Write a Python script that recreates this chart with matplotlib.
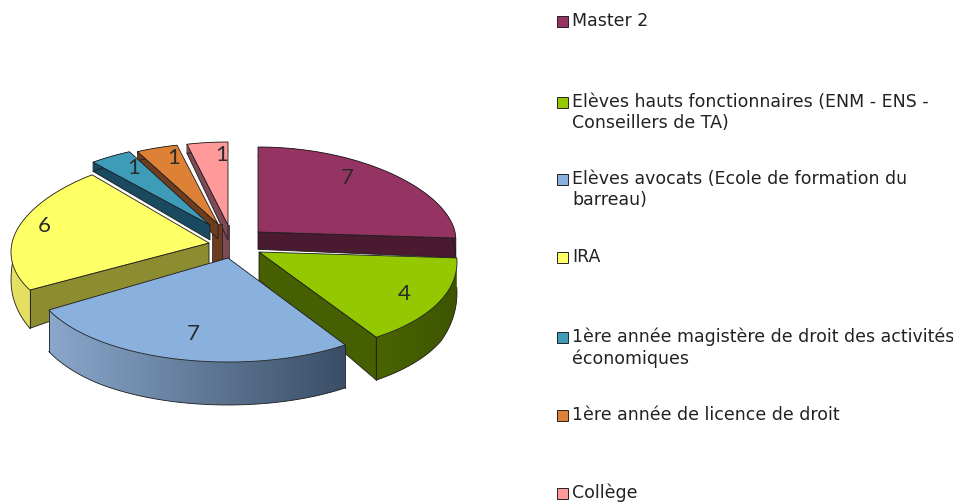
import numpy as np
import matplotlib
matplotlib.use('Agg')
import matplotlib.pyplot as plt
from matplotlib.colors import LinearSegmentedColormap
from matplotlib.patches import Polygon

# chart data
values = [7, 4, 7, 6, 1, 1, 1]
labels = ['Master 2',
          'Elèves hauts fonctionnaires (ENM - ENS -\nConseillers de TA)',
          'Elèves avocats (Ecole de formation du\nbarreau)',
          'IRA',
          '1ère année magistère de droit des activités\néconomiques',
          '1ère année de licence de droit',
          'Collège']

# look of each slice
topColors = ['#953462', '#94c800', '#8ab0de', '#ffff66', '#3f9cb8', '#dd8136', '#ff9a9a']
faceColors = ['#4a1a30', '#465f00', '#44586f', '#8c8c30', '#1a4a60', '#6e3c1e', '#7f4a55']
arcLeft = ['#4a1a30', '#4a6400', '#8aa8cc', '#e8e264', '#1a4a60', '#6e3c1e', '#7f4a55']
arcRight = ['#4a1a30', '#3e5500', '#3a4e66', '#d8d050', '#1a4a60', '#6e3c1e', '#7f4a55']

# exploded apex of each slice, in pixels, and its radius towards the viewer
apexX = [258, 259, 228, 209, 210, 218, 228]
apexY = [232, 252, 258, 243, 225, 224, 225]
frontRy = [104, 102, 104, 94, 104, 104, 104]
backRy = [85, 85, 85, 89, 82, 81, 83]
radiusX = 197
# dark column under the tip of the narrow slices
hubLeft = [0, 0, 0, 0, 0, 6, 7]
hubRight = [0, 0, 0, 0, 0, 4, 1]

# slice number positions, legend rows
numberX = [347, 404, 193, 44, 134, 174, 222]
numberY = [178, 294, 334, 226, 168, 158, 155]
legendY = [21, 102, 179, 257, 337, 415, 493]
drawOrder = [6, 5, 4, 0, 3, 1, 2]

edgeColor = '#1c1c1c'


def project(theta, i):
    s = np.sin(theta)
    rx = radiusX * (1 - 0.1 * s)
    ry = np.where(s > 0, backRy[i], frontRy[i])
    return apexX[i] + rx * np.cos(theta), apexY[i] - ry * s


def depth(y):
    return np.interp(y, [160, 225, 237, 252, 300, 340], [9, 15, 19, 28, 41, 43])


def radialFace(ax, theta, i, z):
    x, y = project(np.array([theta]), i)
    xs = [apexX[i], x[0], x[0], apexX[i]]
    ys = [apexY[i], y[0], y[0] + depth(y[0]), apexY[i] + depth(apexY[i])]
    ax.fill(xs, ys, facecolor=faceColors[i], edgecolor=edgeColor, linewidth=0.6, zorder=z)


def drawSlice(ax, i, start, end, z):
    if hubLeft[i] or hubRight[i]:
        x0, x1 = apexX[i] - hubLeft[i], apexX[i] + hubRight[i]
        ax.fill([x0, x1, x1, x0], [apexY[i], apexY[i], apexY[i] + 38, apexY[i] + 38],
                facecolor=faceColors[i], edgecolor=edgeColor, linewidth=0.5, zorder=z)
    # only the cut faces turned towards the viewer
    if np.cos(start) < -1e-6:
        radialFace(ax, start, i, z + 1)
    if np.cos(end) > 1e-6:
        radialFace(ax, end, i, z + 1)

    thetas = np.linspace(start, end, 160)
    x, y = project(thetas, i)
    yb = y + depth(y)

    # outer wall, a horizontal gradient clipped to the wall outline
    cmap = LinearSegmentedColormap.from_list('wall', [arcLeft[i], arcRight[i]])
    wall = Polygon(np.c_[np.r_[x, x[::-1]], np.r_[y, yb[::-1]]], transform=ax.transData,
                   facecolor='none', edgecolor='none')
    ax.add_patch(wall)
    img = ax.imshow(np.linspace(0, 1, 256)[None, :], cmap=cmap, aspect='auto', zorder=z + 2,
                    extent=(x.min(), x.max(), yb.max(), y.min()))
    img.set_clip_path(wall)

    ax.plot(x, yb, color=edgeColor, linewidth=0.6, zorder=z + 3)
    for k in (0, -1):
        if np.sin(thetas[k]) < -0.3:
            ax.plot([x[k], x[k]], [y[k], yb[k]], color=edgeColor, linewidth=0.6, zorder=z + 3)

    ax.fill(np.r_[apexX[i], x], np.r_[apexY[i], y], facecolor=topColors[i],
            edgecolor=edgeColor, linewidth=0.6, zorder=z + 4)


fig = plt.figure(figsize=(9.54, 5.04), dpi=100)
ax = fig.add_axes([0, 0, 1, 1])

bounds = np.pi / 2 - np.r_[0, np.cumsum(values)] / sum(values) * 2 * np.pi
for n, i in enumerate(drawOrder):
    drawSlice(ax, i, bounds[i], bounds[i + 1], 10 * (n + 1))

ax.set_xlim(0, 954)
ax.set_ylim(504, 0)
ax.axis('off')

for i, v in enumerate(values):
    ax.text(numberX[i], numberY[i], str(v), family='Lato', fontsize=16, color='#2a2a2a',
            ha='center', va='center', zorder=200)

for i, label in enumerate(labels):
    ax.fill([557, 568, 568, 557], [legendY[i] - 5.5, legendY[i] - 5.5, legendY[i] + 5.5, legendY[i] + 5.5],
            facecolor=topColors[i], edgecolor='#222222', linewidth=0.7, zorder=200)
    ax.text(572, legendY[i] - 9, label, family='DejaVu Sans', fontsize=12.5, color='#222222',
            ha='left', va='top', linespacing=1.2, zorder=200)

fig.savefig('out.png', dpi=100)
